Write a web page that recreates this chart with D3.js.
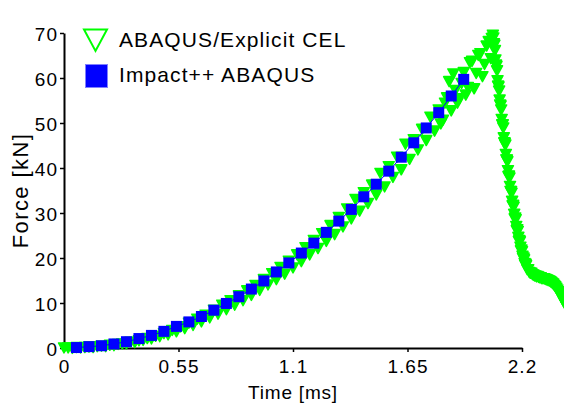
<!DOCTYPE html>
<html>
<head>
<meta charset="utf-8">
<script src="https://cdn.jsdelivr.net/npm/d3@7"></script>
<style>
  html, body { margin: 0; padding: 0; background: #ffffff; }
  svg { display: block; }
  text { font-family: "Liberation Sans", Arial, sans-serif; fill: #000; }
</style>
</head>
<body>
<div id="chart"></div>
<script>
// Axis ticks
const xTicks = [0, 0.55, 1.1, 1.65, 2.2];
const yTicks = [0, 10, 20, 30, 40, 50, 60, 70];

// Series names
const seriesNames = ["ABAQUS/Explicit CEL", "Impact++ ABAQUS"];

// ABAQUS/Explicit CEL: time [ms]
const celTime = [
  0, 0.02, 0.04, 0.06, 0.08, 0.10, 0.12, 0.14, 0.16, 0.18,
  0.20, 0.22, 0.24, 0.26, 0.28, 0.30, 0.32, 0.34, 0.36, 0.38,
  0.40, 0.42, 0.44, 0.46, 0.48, 0.50, 0.52, 0.54, 0.56, 0.58,
  0.60, 0.62, 0.64, 0.66, 0.68, 0.70, 0.72, 0.74, 0.76, 0.78,
  0.80, 0.82, 0.84, 0.86, 0.88, 0.90, 0.92, 0.94, 0.96, 0.98,
  1.00, 1.02, 1.04, 1.06, 1.08, 1.10, 1.12, 1.14, 1.16, 1.18,
  1.20, 1.22, 1.24, 1.26, 1.28, 1.30, 1.32, 1.34, 1.36, 1.38,
  1.40, 1.42, 1.44, 1.46, 1.48, 1.50, 1.52, 1.54, 1.56, 1.58,
  1.60, 1.62, 1.64, 1.66, 1.68, 1.70, 1.72, 1.74, 1.76, 1.78,
  1.80, 1.81, 1.82, 1.83, 1.84, 1.85, 1.86, 1.87, 1.88, 1.89,
  1.90, 1.91, 1.92, 1.93, 1.94, 1.95, 1.96, 1.97, 1.98, 1.99,
  2.00, 2.01, 2.02, 2.03, 2.04, 2.05, 2.055,
  2.0600, 2.0625, 2.0650, 2.0675, 2.0700, 2.0725, 2.0750, 2.0775,
  2.0800, 2.0825, 2.0850, 2.0875, 2.0900, 2.0925, 2.0950, 2.0975,
  2.1000, 2.1025, 2.1050, 2.1075, 2.1100, 2.1125, 2.1150, 2.1175,
  2.1200, 2.1225, 2.1250, 2.1275, 2.1300, 2.1325, 2.1350, 2.1375,
  2.1400, 2.1425, 2.1450, 2.1475, 2.1500, 2.1525, 2.1550, 2.1575,
  2.1600, 2.1625, 2.1650, 2.1675, 2.1700, 2.1725, 2.1750, 2.1775,
  2.1800, 2.1825, 2.1850, 2.1875, 2.1900, 2.1925, 2.1950, 2.1975,
  2.2000, 2.2025, 2.2050, 2.2075, 2.2100, 2.2125, 2.2150, 2.2175,
  2.2200, 2.2250, 2.2300, 2.2350, 2.2400, 2.2450, 2.2500, 2.2550,
  2.2600, 2.2650, 2.2700, 2.2750, 2.2800, 2.2850, 2.2900, 2.2950,
  2.3000, 2.3050, 2.3100, 2.3150, 2.3200, 2.3250, 2.3300, 2.3350,
  2.3400, 2.3450, 2.3500, 2.3550, 2.3600, 2.3650, 2.3700, 2.3750,
  2.3800, 2.3850, 2.3900, 2.3950, 2.4000, 2.4050, 2.4100
];
// ABAQUS/Explicit CEL: force [kN]
const celForce = [
  0.0, 0.0, -0.1, 0.1, 0.0, 0.1, 0.2, 0.1, 0.3, 0.4,
  0.3, 0.6, 0.5, 0.8, 0.9, 0.9, 1.3, 1.2, 1.6, 1.7,
  2.1, 2.0, 2.6, 2.5, 3.2, 2.9, 3.9, 3.6, 4.7, 4.3,
  5.5, 5.0, 6.4, 5.8, 7.3, 6.7, 8.4, 7.5, 9.5, 8.5,
  10.5, 9.5, 11.6, 10.5, 12.7, 11.7, 13.9, 12.8, 15.2, 14.0,
  16.5, 15.2, 17.9, 16.4, 19.3, 17.8, 20.7, 19.2, 22.3, 20.7,
  23.9, 22.1, 25.4, 23.7, 27.2, 25.2, 29.0, 26.9, 30.9, 28.7,
  33.0, 30.4, 34.5, 32.1, 36.2, 34.0, 38.8, 35.8, 40.3, 37.9,
  42.4, 39.6, 45.3, 41.9, 46.3, 44.0, 48.6, 46.1, 51.3, 48.2,
  52.9, 49.8, 50.6, 54.4, 55.6, 59.2, 52.7, 60.9, 57.2, 54.4,
  55.4, 58.8, 61.2, 56.2, 57.9, 63.4, 63.7, 57.6, 61.0, 65.0,
  65.4, 60.3, 63.0, 67.1, 68.1, 64.3, 68.8,
  69.5, 68.9, 67.6, 67.3, 66.1, 64.0, 62.9, 62.6,
  61.6, 59.4, 58.2, 58.0, 57.1, 55.1, 54.0, 53.8,
  52.9, 50.8, 49.6, 49.6, 48.9, 46.7, 45.6, 45.5,
  45.1, 43.0, 41.8, 41.8, 41.4, 39.4, 38.1, 38.2,
  37.8, 35.9, 34.8, 34.8, 34.4, 32.6, 31.6, 31.7,
  31.3, 29.7, 28.7, 28.9, 28.5, 27.0, 26.1, 26.3,
  25.9, 24.6, 23.7, 23.9, 23.6, 22.4, 21.6, 21.8,
  21.4, 20.4, 19.9, 20.0, 19.6, 18.8, 18.4, 18.6,
  18.3, 17.4, 17.4, 16.8, 16.6, 16.6, 16.3, 16.2,
  16.0, 16.0, 15.8, 15.9, 15.7, 15.6, 15.6, 15.4,
  15.4, 15.4, 15.3, 15.2, 15.1, 15.0, 14.9, 14.8,
  14.6, 14.4, 14.2, 13.9, 13.6, 13.3, 12.9, 12.5,
  12.1, 11.7, 11.2, 10.8, 10.3, 9.9, 9.5
];

// Impact++ ABAQUS: time [ms] and force [kN]
const impactTime = [
  0.06, 0.12, 0.18, 0.24, 0.30, 0.36, 0.42, 0.48, 0.54, 0.60,
  0.66, 0.72, 0.78, 0.84, 0.90, 0.96, 1.02, 1.08, 1.14, 1.20,
  1.26, 1.32, 1.38, 1.44, 1.50, 1.56, 1.62, 1.68, 1.74, 1.80,
  1.86, 1.92
];
const impactForce = [
  0.1, 0.3, 0.5, 0.9, 1.4, 2.1, 2.8, 3.7, 4.8, 5.8,
  7.0, 8.4, 9.9, 11.4, 13.1, 14.9, 16.9, 18.9, 21.1, 23.3,
  25.7, 28.2, 30.8, 33.6, 36.4, 39.3, 42.4, 45.6, 48.9, 52.3,
  56.0, 59.7
];

const W = 564, H = 407;
const GREEN = "#00ff00", BLUE = "#0000ff";

const svg = d3.select("#chart").append("svg")
  .attr("width", W).attr("height", H);

const x = d3.scaleLinear().domain([0, 2.2]).range([64, 522]);
const y = d3.scaleLinear().domain([0, 70]).range([348, 33]);

// Axes
const xAxis = svg.append("g")
  .attr("transform", `translate(0,${y(0)})`)
  .call(d3.axisBottom(x).tickValues(xTicks).tickSize(4).tickSizeOuter(0)
    .tickPadding(8).tickFormat(d => String(d)));
const yAxis = svg.append("g")
  .attr("transform", `translate(${x(0)},0)`)
  .call(d3.axisLeft(y).tickValues(yTicks).tickSize(4).tickSizeOuter(0)
    .tickPadding(2).tickFormat(d => String(d)));

[xAxis, yAxis].forEach(g => {
  g.select(".domain").attr("stroke", "#000").attr("stroke-width", 2);
  g.selectAll(".tick line").attr("stroke", "#000").attr("stroke-width", 1.5);
  g.selectAll(".tick text")
    .attr("fill", "#000")
    .style("font-family", '"Liberation Sans", Arial, sans-serif')
    .style("font-size", "19px")
    .style("letter-spacing", "1px");
});
yAxis.selectAll(".tick text").attr("dy", "0.40em");

// Axis titles
svg.append("text")
  .attr("x", (x(0) + x(2.2)) / 2).attr("y", 399)
  .attr("text-anchor", "middle")
  .style("font-size", "19px").style("letter-spacing", "0.8px")
  .text("Time [ms]");
svg.append("text")
  .attr("transform", `translate(28,${(y(0) + y(70)) / 2}) rotate(-90)`)
  .attr("text-anchor", "middle")
  .style("font-size", "22px").style("letter-spacing", "1.4px")
  .text("Force [kN]");

// CEL series: dense downward triangles, overlapping into a band
const tri = "M-5.5,-5L5.5,-5L0,5Z";
const cel = celTime.map((t, i) => ({ t, f: celForce[i] }));
svg.append("g").selectAll("path")
  .data(cel).join("path")
  .attr("d", tri)
  .attr("transform", d => `translate(${x(d.t)},${y(d.f)})`)
  .attr("fill", GREEN)
  .attr("stroke", GREEN)
  .attr("stroke-width", 1.5)
  .attr("stroke-linejoin", "round");

// Impact++ series: line with filled squares
const imp = impactTime.map((t, i) => ({ t, f: impactForce[i] }));
svg.append("path")
  .datum(imp)
  .attr("fill", "none")
  .attr("stroke", BLUE)
  .attr("stroke-width", 1)
  .attr("d", d3.line().x(d => x(d.t)).y(d => y(d.f)));
svg.append("g").selectAll("rect")
  .data(imp).join("rect")
  .attr("x", d => x(d.t) - 5.5).attr("y", d => y(d.f) - 5.5)
  .attr("width", 11).attr("height", 11)
  .attr("fill", BLUE);

// Legend
const legend = svg.append("g");
legend.append("path")
  .attr("d", "M84,29.5L107,29.5L95.5,51Z")
  .attr("fill", "#ffffff").attr("stroke", GREEN).attr("stroke-width", 2);
legend.append("rect")
  .attr("x", 85.5).attr("y", 64.5).attr("width", 22).attr("height", 23)
  .attr("fill", BLUE).attr("stroke", "#8080ff").attr("stroke-width", 1);
legend.selectAll("text.lbl")
  .data(seriesNames).join("text")
  .attr("class", "lbl")
  .attr("x", 119).attr("y", (d, i) => i === 0 ? 47 : 82)
  .style("font-size", "21px").style("letter-spacing", "1.1px")
  .text(d => d);
</script>
</body>
</html>
